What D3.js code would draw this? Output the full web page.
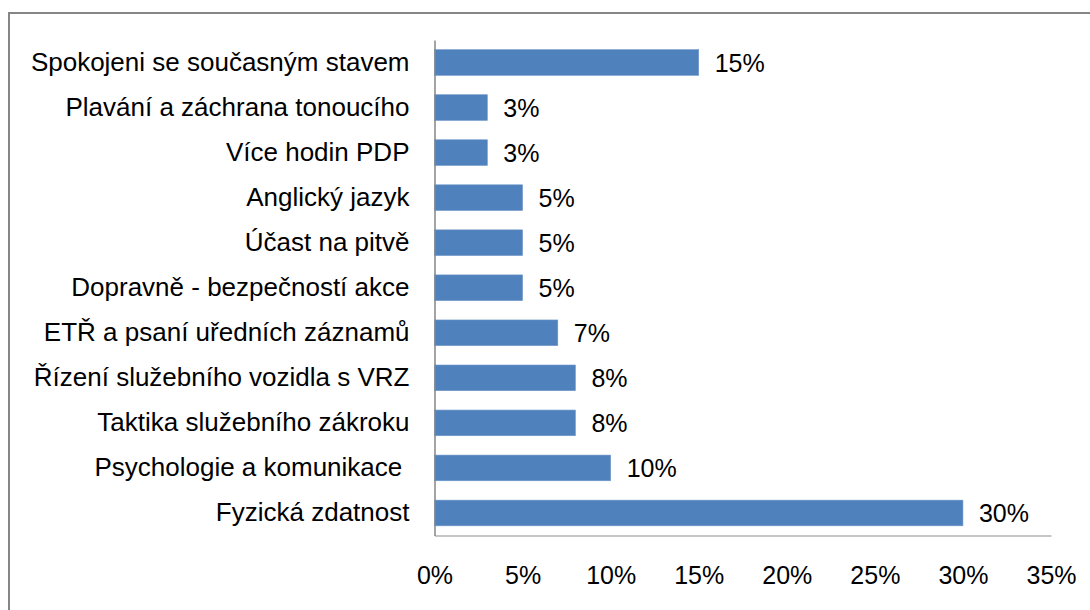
<!DOCTYPE html>
<html lang="cs">
<head>
    <meta charset="UTF-8">
    <title>Návrhy na rozšíření výuky</title>
    <script src="https://d3js.org/d3.v7.min.js"></script>
    <style>
        body {
            margin: 0;
            background: #fff;
        }
        svg {
            display: block;
            font-family: "Liberation Sans", Arial, sans-serif;
        }
        .axis text {
            font-size: 25px;
            fill: #000;
        }
        .y-axis text {
            font-size: 26px;
            white-space: pre;
        }
        .value-label {
            font-size: 25px;
            fill: #000;
        }
    </style>
</head>
<body>
    <svg width="1090" height="610"></svg>
    <script>
        // Data (values in %)
        const categories = [
            "Spokojeni se současným stavem",
            "Plavání a záchrana tonoucího",
            "Více hodin PDP",
            "Anglický jazyk",
            "Účast na pitvě",
            "Dopravně - bezpečností akce",
            "ETŘ a psaní uředních záznamů",
            "Řízení služebního vozidla s VRZ",
            "Taktika služebního zákroku",
            "Psychologie a komunikace ",
            "Fyzická zdatnost"
        ];
        const values = [15, 3, 3, 5, 5, 5, 7, 8, 8, 10, 30];
        const xTicks = [0, 5, 10, 15, 20, 25, 30, 35];

        const svg = d3.select("svg");

        // outer chart border (right/bottom edges fall outside the picture)
        svg.append("rect")
           .attr("x", 9)
           .attr("y", 13)
           .attr("width", 1100)
           .attr("height", 620)
           .attr("fill", "none")
           .attr("stroke", "#868686")
           .attr("stroke-width", 2);

        const plot = {left: 434.5, right: 1051, top: 40, bottom: 535.5};

        const x = d3.scaleLinear()
                    .domain([0, 35])
                    .range([plot.left, plot.right]);

        const y = d3.scaleBand()
                    .domain(categories)
                    .range([plot.top, plot.bottom])
                    .paddingInner(0.43)
                    .paddingOuter(0.215);

        // bars
        svg.selectAll(".bar")
           .data(categories)
           .enter().append("rect")
           .attr("class", "bar")
           .attr("x", x(0))
           .attr("y", d => y(d))
           .attr("width", (d, i) => x(values[i]) - x(0))
           .attr("height", y.bandwidth())
           .attr("fill", "#4F81BD")
           .attr("stroke", "#6f97c9")
           .attr("stroke-width", 0.6);

        // value labels
        svg.selectAll(".value-label")
           .data(categories)
           .enter().append("text")
           .attr("class", "value-label")
           .attr("x", (d, i) => x(values[i]) + 16)
           .attr("y", d => y(d) + y.bandwidth() / 2)
           .attr("dy", "0.36em")
           .text((d, i) => values[i] + "%");

        // bottom axis: light line at plot bottom, labels well below it
        const xAxis = svg.append("g")
           .attr("class", "axis")
           .attr("transform", `translate(0,${plot.bottom})`)
           .call(d3.axisBottom(x)
                   .tickValues(xTicks)
                   .tickFormat(d => d + "%")
                   .tickSize(0)
                   .tickPadding(31));
        xAxis.select(".domain").attr("stroke", "#b3b3b3").attr("stroke-width", 1.5);
        xAxis.selectAll("text").style("font-family", "inherit");

        // left axis with category labels
        const yAxis = svg.append("g")
           .attr("class", "axis y-axis")
           .attr("transform", `translate(${plot.left},0)`)
           .call(d3.axisLeft(y).tickSize(0).tickPadding(25));
        yAxis.select(".domain").attr("stroke", "#868686").attr("stroke-width", 1.5);
        yAxis.selectAll("text").style("font-family", "inherit");
    </script>
</body>
</html>
